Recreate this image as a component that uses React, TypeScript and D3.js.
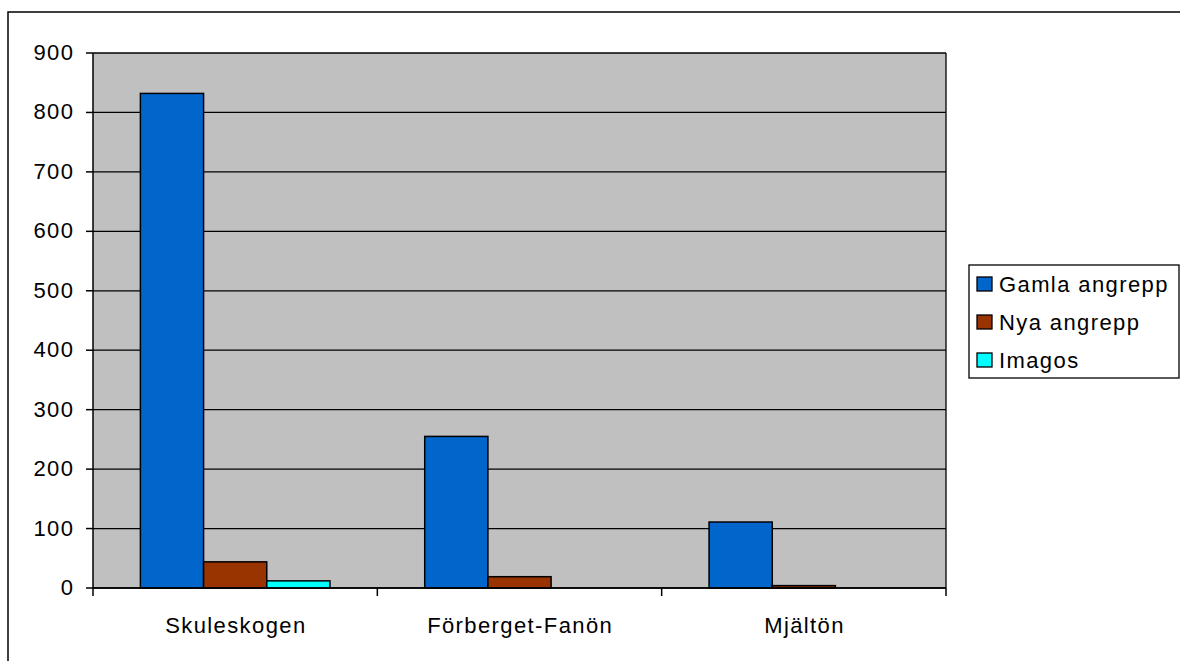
import React from "react";
import * as d3 from "d3";

// Sites and counts per kind of attack
const categories = ["Skuleskogen", "Förberget-Fanön", "Mjältön"];
const seriesNames = ["Gamla angrepp", "Nya angrepp", "Imagos"];
const gamlaAngrepp = [832, 255, 111];
const nyaAngrepp = [44, 19, 4];
const imagos = [12, 0, 0];
const yTicks = [0, 100, 200, 300, 400, 500, 600, 700, 800, 900];

const seriesValues = [gamlaAngrepp, nyaAngrepp, imagos];
const colors = ["#0066CC", "#993300", "#00FFFF"];

const W = 1180;
const H = 661;
const plot = { left: 93, right: 946, top: 53, bottom: 588 };
const font = "'Liberation Sans', Arial, sans-serif";
const fontSize = 22;
const spacing = 1.4;

export default function App() {
  const y = d3.scaleLinear().domain([0, 900]).range([plot.bottom, plot.top]);
  const x0 = d3
    .scaleBand<string>()
    .domain(categories)
    .range([plot.left, plot.right])
    .paddingInner(0)
    .paddingOuter(0);
  // three adjoining bars centred in each category, with wide gaps between groups
  const x1 = d3
    .scaleBand<string>()
    .domain(seriesNames)
    .range([0, x0.bandwidth()])
    .paddingOuter(0.75)
    .paddingInner(0);
  const barW = x1.bandwidth();

  const boundaries = [...categories.map((c) => x0(c) as number), plot.right];

  return (
    <svg
      width={W}
      height={H}
      style={{ position: "absolute", left: 0, top: 0, background: "#fff" }}
      fontFamily={font}
    >
      {/* chart frame */}
      <rect x={8} y={12} width={W} height={H} fill="#fff" stroke="#000" strokeWidth={1.5} />

      {/* plot area */}
      <rect
        x={plot.left}
        y={plot.top}
        width={plot.right - plot.left}
        height={plot.bottom - plot.top}
        fill="#C0C0C0"
      />

      {/* gridlines */}
      {yTicks.map((t) => (
        <line
          key={"g" + t}
          x1={plot.left}
          x2={plot.right}
          y1={y(t)}
          y2={y(t)}
          stroke="#000"
          strokeWidth={1.3}
        />
      ))}
      <line x1={plot.right} x2={plot.right} y1={plot.top} y2={plot.bottom} stroke="#000" strokeWidth={1.3} />

      {/* bars */}
      {categories.map((c, ci) =>
        seriesNames.map((s, si) => {
          const v = seriesValues[si][ci];
          if (v <= 0) return null;
          const bx = (x0(c) as number) + (x1(s) as number);
          return (
            <rect
              key={c + s}
              x={bx}
              y={y(v)}
              width={barW}
              height={y(0) - y(v)}
              fill={colors[si]}
              stroke="#000"
              strokeWidth={1.5}
            />
          );
        })
      )}

      {/* y axis */}
      <line x1={plot.left} x2={plot.left} y1={plot.top} y2={plot.bottom} stroke="#000" strokeWidth={1.5} />
      {yTicks.map((t) => (
        <g key={"y" + t}>
          <line x1={plot.left - 7} x2={plot.left} y1={y(t)} y2={y(t)} stroke="#000" strokeWidth={1.5} />
          <text
            x={plot.left - 20 + spacing}
            y={y(t) + 7}
            textAnchor="end"
            fontSize={fontSize}
            letterSpacing={spacing}
            fill="#000"
          >
            {t}
          </text>
        </g>
      ))}

      {/* x axis */}
      <line x1={plot.left} x2={plot.right} y1={plot.bottom} y2={plot.bottom} stroke="#000" strokeWidth={1.5} />
      {boundaries.map((bx, i) => (
        <line key={"xt" + i} x1={bx} x2={bx} y1={plot.bottom} y2={plot.bottom + 8} stroke="#000" strokeWidth={1.5} />
      ))}
      {categories.map((c) => (
        <text
          key={"xl" + c}
          x={(x0(c) as number) + x0.bandwidth() / 2 + spacing / 2}
          y={633}
          textAnchor="middle"
          fontSize={fontSize}
          letterSpacing={spacing}
          fill="#000"
        >
          {c}
        </text>
      ))}

      {/* legend */}
      <rect x={969} y={265} width={210} height={113} fill="#fff" stroke="#000" strokeWidth={1.3} />
      {seriesNames.map((s, i) => {
        const cy = 284 + i * 38;
        return (
          <g key={"lg" + s}>
            <rect x={977} y={cy - 7} width={15} height={14} fill={colors[i]} stroke="#000" strokeWidth={1.3} />
            <text x={999} y={cy + 7.5} fontSize={fontSize} letterSpacing={spacing} fill="#000">
              {s}
            </text>
          </g>
        );
      })}
    </svg>
  );
}
